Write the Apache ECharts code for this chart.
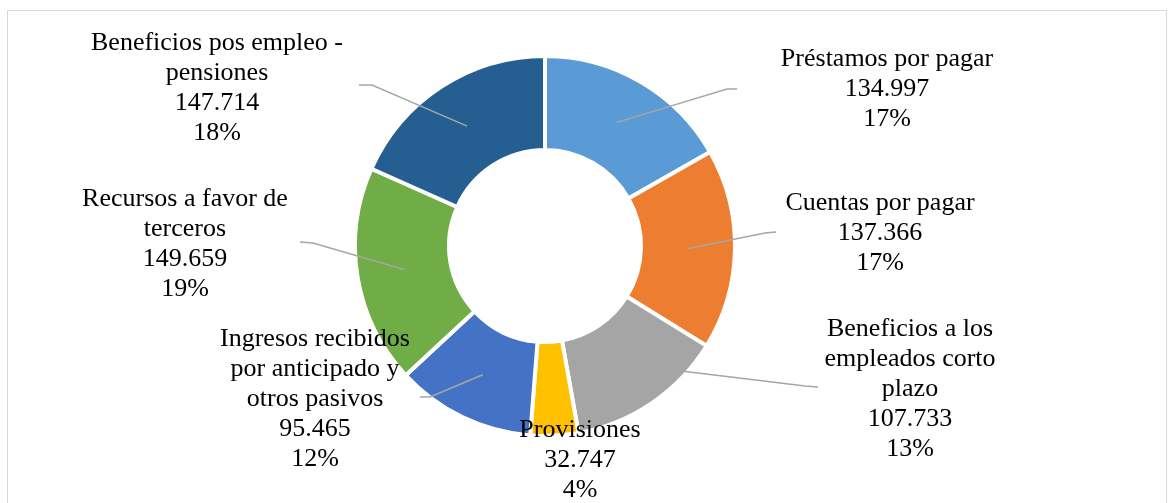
<!DOCTYPE html>
<html>
<head>
<meta charset="utf-8">
<script src="https://cdn.jsdelivr.net/npm/echarts@6/dist/echarts.min.js"></script>
<style>
  html, body { margin: 0; padding: 0; background: #fff; }
  #frame { position: absolute; left: 7px; top: 10px; width: 1160px; height: 520px; border: 1px solid #d9d9d9; box-sizing: border-box; }
  #chart { position: absolute; left: 0; top: 0; width: 1175px; height: 503px; }
</style>
</head>
<body>
<div id="frame"></div>
<div id="chart"></div>
<script>
// ---- data ----
var categories = [
  'Préstamos por pagar',
  'Cuentas por pagar',
  'Beneficios a los\nempleados corto\nplazo',
  'Provisiones',
  'Ingresos recibidos\npor anticipado y\notros pasivos',
  'Recursos a favor de\nterceros',
  'Beneficios pos empleo -\npensiones'
];
var values = [134997, 137366, 107733, 32747, 95465, 149659, 147714];
var colors = ['#5B9BD5', '#ED7D31', '#A5A5A5', '#FFC000', '#4472C4', '#70AD47', '#255E91'];

// ---- layout (label placement, not data) ----
var center = [545, 246];
var radius = [96, 190];
var labelCenters = [[887, 89], [880, 233], [910, 389], [580, 460], [315, 399], [185, 244], [217, 88]];
var leaderEnds = [
  [[727, 89], [737, 89]],
  [[765, 233], [776, 232]],
  [[805, 386], [818, 387]],
  null,
  [[430, 397], [420, 397]],
  [[313, 243], [300, 242]],
  [[372, 85], [359, 85]]
];

var total = values.reduce(function (a, b) { return a + b; }, 0);
function fmt(v) {
  return String(v).replace(/\B(?=(\d{3})+(?!\d))/g, '.');
}
function midPoint(i) {
  var cum = 0;
  for (var k = 0; k < i; k++) cum += values[k];
  var a = (cum + values[i] / 2) / total * Math.PI * 2;
  var rm = (radius[0] + radius[1]) / 2;
  return [center[0] + rm * Math.sin(a), center[1] - rm * Math.cos(a)];
}

var sliceData = categories.map(function (c, i) {
  return { name: c, value: values[i], itemStyle: { color: colors[i] } };
});
var labelData = categories.map(function (c, i) {
  return {
    name: c,
    value: values[i],
    labelLine: { show: leaderEnds[i] !== null }
  };
});

var chart = echarts.init(document.getElementById('chart'));
chart.setOption({
  animation: false,
  series: [{
    type: 'pie',
    center: center,
    radius: radius,
    startAngle: 90,
    clockwise: true,
    silent: true,
    z: 2,
    itemStyle: { borderColor: '#ffffff', borderWidth: 4 },
    label: { show: false },
    labelLine: { show: false },
    data: sliceData
  }, {
    type: 'pie',
    center: center,
    radius: radius,
    startAngle: 90,
    clockwise: true,
    silent: true,
    z: 5,
    avoidLabelOverlap: false,
    percentPrecision: 2,
    itemStyle: { color: 'rgba(0,0,0,0)', borderWidth: 0 },
    label: {
      show: true,
      position: 'outside',
      fontFamily: 'Liberation Serif',
      fontSize: 26,
      lineHeight: 30,
      color: '#000000',
      align: 'center',
      formatter: function (p) {
        return p.name + '\n' + fmt(p.value) + '\n' + Math.round(p.percent) + '%';
      }
    },
    labelLine: {
      show: true,
      lineStyle: { color: '#A6A6A6', width: 1.5 }
    },
    emphasis: { disabled: true },
    labelLayout: function (params) {
      var i = params.dataIndex;
      var res = {
        x: labelCenters[i][0],
        y: labelCenters[i][1],
        align: 'center',
        verticalAlign: 'middle'
      };
      if (leaderEnds[i]) {
        res.labelLinePoints = [midPoint(i), leaderEnds[i][0], leaderEnds[i][1]];
      }
      return res;
    },
    data: labelData
  }]
});
</script>
</body>
</html>
